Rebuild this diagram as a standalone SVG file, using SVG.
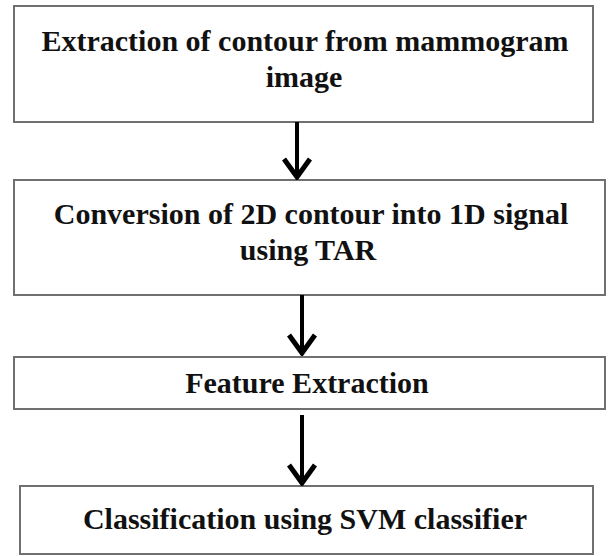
<svg xmlns="http://www.w3.org/2000/svg" width="608" height="556" viewBox="0 0 608 556">
<style>
.box{fill:#fff;stroke:#707070;stroke-width:2}
.t{font-family:"Liberation Serif","Times New Roman",serif;font-weight:bold;font-size:30px;fill:#111;text-anchor:middle}
.c{stroke:#000;stroke-width:4;fill:none}
</style>
<defs>
<marker id="ah" viewBox="0 0 24 30" refX="22" refY="15" markerWidth="24" markerHeight="30" orient="auto" markerUnits="userSpaceOnUse">
<path d="M3,2 L21,15 L3,28" fill="none" stroke="#000" stroke-width="5" stroke-linejoin="miter"/>
</marker>
</defs>
<rect width="608" height="556" fill="#fff"/>
<g id="n1"><rect class="box" x="14" y="6" width="579" height="116"/>
<text class="t" x="305" y="51">Extraction of contour from mammogram</text>
<text class="t" x="304" y="87">image</text></g>
<g id="n2"><rect class="box" x="14" y="180" width="591" height="115"/>
<text class="t" x="311" y="224">Conversion of 2D contour into 1D signal</text>
<text class="t" x="308" y="260">using TAR</text></g>
<g id="n3"><rect class="box" x="14" y="357" width="591" height="52"/>
<text class="t" x="307" y="393">Feature Extraction</text></g>
<g id="n4"><rect class="box" x="20" y="486" width="573" height="68"/>
<text class="t" x="305" y="529">Classification using SVM classifier</text></g>
<g id="connectors">
<path class="c" d="M297,122 V178" marker-end="url(#ah)"/>
<path class="c" d="M302,295 V354" marker-end="url(#ah)"/>
<path class="c" d="M302,415 V484" marker-end="url(#ah)"/>
</g>
</svg>
